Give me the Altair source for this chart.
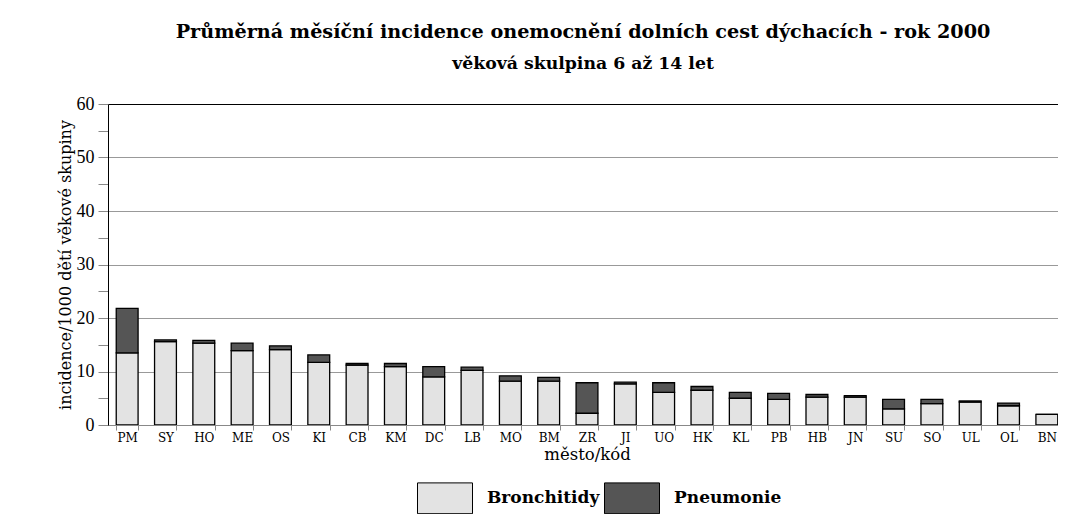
import altair as alt
import pandas as pd

cities = ["PM", "SY", "HO", "ME", "OS", "KI", "CB", "KM", "DC", "LB", "MO", "BM", "ZR",
          "JI", "UO", "HK", "KL", "PB", "HB", "JN", "SU", "SO", "UL", "OL", "BN"]
bronchitidy = [13.5, 15.6, 15.3, 13.9, 14.1, 11.7, 11.2, 10.9, 9.0, 10.2, 8.2, 8.2, 2.2,
               7.7, 6.1, 6.5, 5.0, 4.8, 5.2, 5.2, 3.0, 4.0, 4.3, 3.6, 2.0]
pneumonie = [8.3, 0.3, 0.5, 1.4, 0.7, 1.4, 0.3, 0.6, 1.9, 0.6, 1.0, 0.7, 5.7,
             0.3, 1.8, 0.7, 1.1, 1.1, 0.5, 0.3, 1.8, 0.8, 0.2, 0.5, 0.0]
series = ["Bronchitidy", "Pneumonie"]
colors = ["#e3e3e3", "#555555"]
y_ticks = [0, 5, 10, 15, 20, 25, 30, 35, 40, 45, 50, 55, 60]

title_text = "Průměrná měsíční incidence onemocnění dolních cest dýchacích - rok 2000"
subtitle_text = "věková skulpina 6 až 14 let"
x_title = "město/kód"
y_title = "incidence/1000 dětí věkové skupiny"

rows = []
for c, b, p in zip(cities, bronchitidy, pneumonie):
    rows.append({"city": c, "series": series[0], "value": b})
    rows.append({"city": c, "series": series[1], "value": p})
df = pd.DataFrame(rows)

SERIF = "DejaVu Serif"
NUMF = "Liberation Serif"

chart = alt.Chart(df).mark_bar(stroke="black", strokeWidth=1.3, clip=True).encode(
    x=alt.X("city:N", sort=cities, title=x_title,
            scale=alt.Scale(paddingInner=0.43, range=[0, 958]),
            axis=alt.Axis(labelAngle=0, labelFontSize=12, labelFont=SERIF, labelColor="black",
                          tickBand="extent", tickColor="#888", tickSize=5,
                          domainColor="#888", labelPadding=2,
                          titleFontSize=16.5, titleFont=SERIF, titleFontWeight="normal",
                          titleColor="black", titlePadding=3)),
    y=alt.Y("value:Q", stack="zero", title=y_title,
            scale=alt.Scale(domain=[0, 60], nice=False),
            axis=alt.Axis(values=y_ticks,
                          labelExpr="datum.value % 10 === 0 ? datum.label : ''",
                          labelFontSize=18, labelFont=NUMF, labelColor="black", labelPadding=4,
                          tickColor="#888", tickSize=10, domainColor="black",
                          grid=True,
                          gridColor=alt.condition("datum.value === 60", alt.value("black"), alt.value("#999")),
                          gridOpacity=alt.condition("datum.value % 10 === 0", alt.value(1), alt.value(0)),
                          titleFontSize=16, titleFont=SERIF, titleFontWeight="normal",
                          titleColor="black", titlePadding=3)),
    color=alt.Color("series:N", scale=alt.Scale(domain=series, range=colors),
                    legend=alt.Legend(title=None, orient="none", direction="horizontal",
                                      legendX=309, legendY=366,
                                      symbolType="M-1,-0.56L1,-0.56L1,0.56L-1,0.56Z",
                                      symbolSize=3025, symbolStrokeColor="black",
                                      symbolStrokeWidth=1, symbolOpacity=1,
                                      labelFontSize=17, labelFont=SERIF, labelFontWeight="bold",
                                      labelColor="black", labelOffset=14, columnPadding=2,
                                      padding=0)),
    order=alt.Order("series:N", sort="ascending"),
).properties(
    width=950, height=321,
    autosize=alt.AutoSizeParams(type="none"),
    padding={"left": 100, "top": 96, "right": 0, "bottom": 89},
    title=alt.TitleParams(text=title_text, subtitle=subtitle_text,
                          anchor="middle", font=SERIF, fontSize=19.2, fontWeight="bold",
                          color="black", subtitleFont=SERIF, subtitleFontSize=17.3,
                          subtitleFontWeight="bold", subtitleColor="black",
                          subtitlePadding=13, offset=23),
).configure_view(stroke="transparent").configure(background="white")

chart.save("out.html", embed_options={"renderer": "svg", "actions": False})
